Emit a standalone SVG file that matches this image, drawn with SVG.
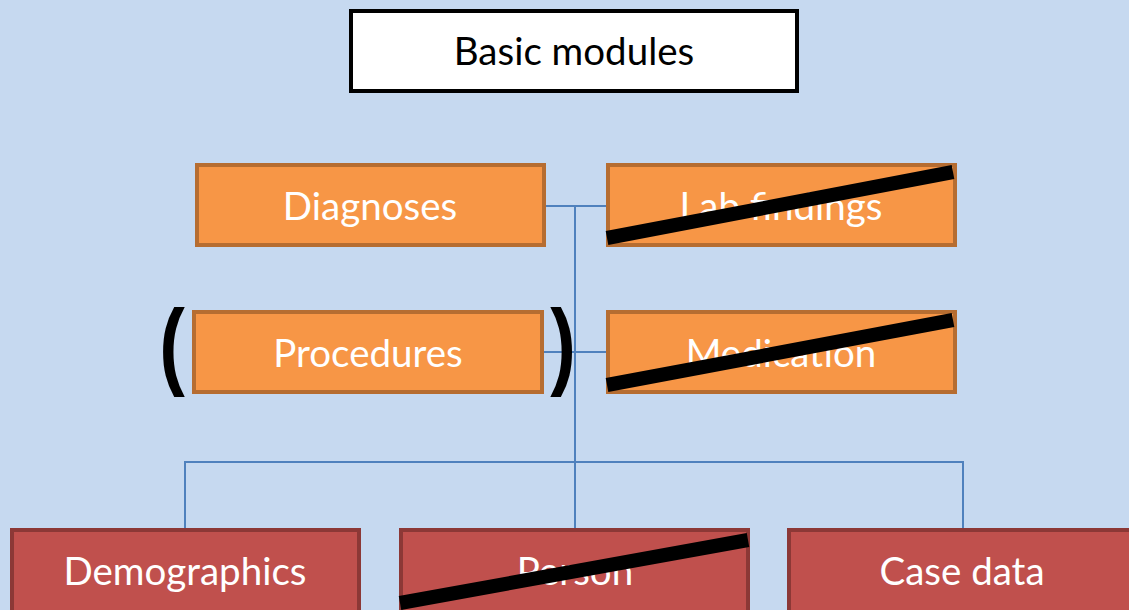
<svg xmlns="http://www.w3.org/2000/svg" width="1129" height="610" viewBox="0 0 1129 610">
<style>
.bg{fill:#C6D9F0}
.orange{fill:#F79646;stroke:#B66D31;stroke-width:4}
.red{fill:#C0504D;stroke:#8C3836;stroke-width:4}
.title{fill:#FFFFFF;stroke:#000000;stroke-width:4}
.t{font-family:Lato,"Liberation Sans",sans-serif;font-size:38.5px;text-anchor:middle;fill:#FFFFFF}
.tb{fill:#000000}
.conn{stroke:#4F81BD;stroke-width:2;fill:none}
.strike{stroke:#000000;stroke-width:14}
.paren{font-family:"Liberation Sans",sans-serif;font-size:96px;font-weight:bold;fill:#000000;text-anchor:middle}
</style>
<rect class="bg" x="0" y="0" width="1129" height="610"/>
<g id="connectors">
<path class="conn" d="M545 206H607M575 206V529M543 352H607M185 529V462H963V529"/>
</g>
<g id="basic-modules">
<rect class="title" x="351" y="11" width="446" height="80"/>
<text class="t tb" x="574" y="65">Basic modules</text>
</g>
<g id="diagnoses">
<rect class="orange" x="197" y="165" width="347" height="80"/>
<text class="t" x="370" y="220">Diagnoses</text>
</g>
<g id="lab-findings">
<rect class="orange" x="608" y="165" width="347" height="80"/>
<text class="t" x="781" y="220">Lab findings</text>
<line class="strike" x1="607" y1="238" x2="953" y2="172"/>
</g>
<g id="procedures">
<text class="paren" transform="translate(172 377) scale(0.8 1)" x="0" y="0">(</text>
<rect class="orange" x="194" y="312" width="348" height="80"/>
<text class="t" x="368" y="367">Procedures</text>
<text class="paren" transform="translate(563 377) scale(0.8 1)" x="0" y="0">)</text>
</g>
<g id="medication">
<rect class="orange" x="608" y="312" width="347" height="80"/>
<text class="t" x="781" y="367">Medication</text>
<line class="strike" x1="607" y1="385" x2="953" y2="320"/>
</g>
<g id="demographics">
<rect class="red" x="12" y="530" width="347" height="84"/>
<text class="t" x="185" y="585">Demographics</text>
</g>
<g id="person">
<rect class="red" x="401" y="530" width="347" height="84"/>
<text class="t" x="575" y="585">Person</text>
<line class="strike" x1="400" y1="603" x2="748" y2="540"/>
</g>
<g id="case-data">
<rect class="red" x="789" y="530" width="347" height="84"/>
<text class="t" x="962" y="585">Case data</text>
</g>
</svg>
